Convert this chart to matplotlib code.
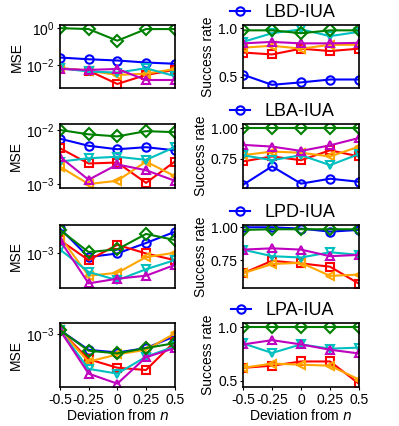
import matplotlib
matplotlib.use("Agg")
import matplotlib.pyplot as plt
from matplotlib.ticker import NullLocator

plt.rcParams['font.family'] = ['Liberation Sans', 'DejaVu Sans']
plt.rcParams['axes.unicode_minus'] = False

# deviation values on the x axis
x = [-0.5, -0.25, 0, 0.25, 0.5]
xtick_labels = ['-0.5', '-0.25', '0', '0.25', '0.5']
titles = ['LBD-IUA', 'LBA-IUA', 'LPD-IUA', 'LPA-IUA']

# MSE per panel (blue, red, orange, cyan, magenta, green)
mse_blue = [[0.026, 0.021, 0.018, 0.014, 0.012],
            [0.0069, 0.0051, 0.0044, 0.0048, 0.0042],
            [1.42e-3, 0.94e-3, 0.99e-3, 1.15e-3, 1.35e-3],
            [1.06e-3, 0.80e-3, 0.77e-3, 0.82e-3, 0.97e-3]]
mse_red = [[0.0069, 0.0051, 0.00098, 0.003, 0.0056],
           [0.0046, 0.0024, 0.0025, 0.00105, 0.0026],
           [1.2e-3, 0.9e-3, 1.12e-3, 0.99e-3, 0.9e-3],
           [1.06e-3, 0.70e-3, 0.62e-3, 0.60e-3, 0.90e-3]]
mse_orange = [[0.0069, 0.0051, 0.003, 0.0035, 0.0063],
              [0.0021, 0.001, 0.00115, 0.0026, 0.0014],
              [1.26e-3, 0.72e-3, 0.75e-3, 0.94e-3, 1.0e-3],
              [1.06e-3, 0.675e-3, 0.75e-3, 0.80e-3, 1.01e-3]]
mse_cyan = [[0.0069, 0.0046, 0.004, 0.0069, 0.0026],
            [0.0026, 0.003, 0.0032, 0.0028, 0.0048],
            [1.05e-3, 0.76e-3, 0.675e-3, 0.79e-3, 0.9e-3],
            [1.06e-3, 0.61e-3, 0.57e-3, 0.725e-3, 0.84e-3]]
mse_magenta = [[0.0063, 0.0056, 0.0063, 0.0016, 0.0016],
               [0.0032, 0.0012, 0.0023, 0.0018, 0.00115],
               [1.2e-3, 0.645e-3, 0.69e-3, 0.72e-3, 0.84e-3],
               [1.06e-3, 0.57e-3, 0.494e-3, 0.72e-3, 0.82e-3]]
mse_green = [[1.0, 0.89, 0.21, 0.89, 0.89],
             [0.01, 0.0083, 0.0076, 0.0095, 0.0091],
             [1.39e-3, 1.01e-3, 1.05e-3, 1.31e-3, 1.2e-3],
             [1.06e-3, 0.79e-3, 0.76e-3, 0.82e-3, 0.88e-3]]

# success rate per panel (the last panel has no blue line)
sr_blue = [[0.52, 0.415, 0.44, 0.47, 0.47],
           [0.54, 0.69, 0.55, 0.59, 0.565],
           [1.0, 1.0, 0.99, 0.967, 0.98],
           None]
sr_red = [[0.75, 0.73, 0.79, 0.765, 0.79],
          [0.73, 0.77, 0.74, 0.82, 0.77],
          [0.65, 0.745, 0.725, 0.70, 0.57],
          [0.62, 0.64, 0.68, 0.68, 0.47]]
sr_orange = [[0.80, 0.82, 0.79, 0.83, 0.83],
             [0.78, 0.81, 0.80, 0.77, 0.85],
             [0.65, 0.72, 0.73, 0.63, 0.64],
             [0.62, 0.66, 0.65, 0.64, 0.51]]
sr_cyan = [[0.86, 0.95, 0.99, 0.92, 0.965],
           [0.78, 0.74, 0.78, 0.70, 0.79],
           [0.83, 0.78, 0.77, 0.81, 0.79],
           [0.85, 0.76, 0.84, 0.80, 0.81]]
sr_magenta = [[0.845, 0.86, 0.845, 0.845, 0.85],
              [0.864, 0.85, 0.815, 0.86, 0.92],
              [0.83, 0.84, 0.83, 0.78, 0.79],
              [0.84, 0.88, 0.84, 0.79, 0.755]]
sr_green = [[0.98, 0.98, 0.95, 0.98, 0.98],
            [1.0, 1.0, 1.0, 1.0, 1.0],
            [0.98, 0.985, 0.985, 0.985, 0.985],
            [1.0, 1.0, 1.0, 1.0, 1.0]]

mse_lims = [(5.8e-4, 1.45), (8.5e-4, 0.0129), (6.04e-4, 1.49e-3), (4.71e-4, 1.17e-3)]
sr_lims = [(0.38, 1.034), (0.516, 1.033), (0.538, 1.018), (0.44, 1.04)]
sr_ticks = [[0.5, 1.0], [0.75, 1.0], [0.75, 1.0], [0.5, 1.0]]

styles = [('b', 'o'), ('r', 's'), ('orange', '<'), ('c', 'v'), ('m', '^'), ('g', 'D')]

fig = plt.figure(figsize=(3.99, 4.26), dpi=100)
bottoms = [0.793, 0.559, 0.324, 0.0915]
heights = [0.148, 0.150, 0.148, 0.150]

for i in range(4):
    ax1 = fig.add_axes([0.150, bottoms[i], 0.288, heights[i]])
    ax2 = fig.add_axes([0.609, bottoms[i], 0.291, heights[i]])

    mse = [mse_blue[i], mse_red[i], mse_orange[i], mse_cyan[i], mse_magenta[i], mse_green[i]]
    sr = [sr_blue[i], sr_red[i], sr_orange[i], sr_cyan[i], sr_magenta[i], sr_green[i]]

    for (c, m), ys in zip(styles, mse):
        ax1.plot(x, ys, color=c, marker=m, mfc='none', ms=6, mew=1.5, lw=1.5)
    for (c, m), ys in zip(styles, sr):
        if ys is None:
            continue
        ax2.plot(x, ys, color=c, marker=m, mfc='none', ms=6, mew=1.5, lw=1.5)
    # legend only shows the blue entry with the method name
    h, = ax2.plot([], [], color='b', marker='o', mfc='none', ms=6, mew=1.5, lw=1.5)
    ax2.legend([h], [titles[i]], loc='center', bbox_to_anchor=(0.34, 1.195),
               frameon=False, fontsize=13, handlelength=1.1, handletextpad=0.8)

    ax1.set_yscale('log')
    ax1.set_ylim(mse_lims[i])
    ax1.yaxis.set_minor_locator(NullLocator())
    ax1.set_ylabel('MSE', fontsize=10, labelpad=2)
    ax2.set_ylim(sr_lims[i])
    ax2.set_yticks(sr_ticks[i])
    ax2.set_ylabel('Success rate', fontsize=10, labelpad=2)

    for ax in (ax1, ax2):
        ax.set_xlim(-0.5, 0.5)
        ax.tick_params(labelsize=10, length=2.5, pad=1.5)
        for s in ax.spines.values():
            s.set_linewidth(1.2)
        if i < 3:
            ax.set_xticks([])
        else:
            ax.set_xticks(x)
            ax.set_xticklabels(xtick_labels)
            ax.set_xlabel('Deviation from $n$', fontsize=10, labelpad=1)

fig.savefig('out.png', dpi=100)
